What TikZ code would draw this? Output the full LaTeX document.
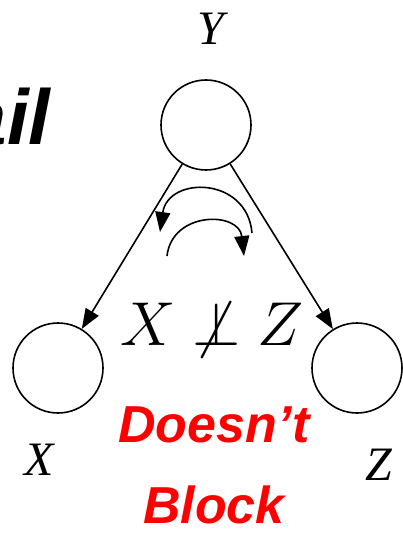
\RequirePackage{fix-cm}
\documentclass[tikz,border=0pt]{standalone}
\usepackage{fontspec}
\setmainfont{Liberation Serif}
\newfontfamily\headfont{Liberation Sans}
\usetikzlibrary{arrows.meta, positioning}
\definecolor{ink}{HTML}{000000}
\definecolor{alarm}{HTML}{FF0000}

\begin{document}
\begin{tikzpicture}[x=1pt, y=-1pt, >={Triangle[length=20pt, width=15pt]},
  var/.style={draw=ink, circle, line width=1.6pt, minimum size=90pt, inner sep=0pt},
  varlabel/.style={text=ink, font=\fontsize{48}{48}\selectfont\itshape, anchor=base},
  link/.style={ink, line width=1.6pt, ->}]

% Frame
\useasboundingbox (0,0) rectangle (403,534);
\clip (0,0) rectangle (403,534);

% Title left over from the slide
\node[text=ink, font=\headfont\fontsize{78}{78}\selectfont\bfseries\itshape, anchor=base east] (title) at (54,145) {Tail};

% Variables
\node[var] (Y) at (206,125) {};
\node[var] (X) at (58,368) {};
\node[var] (Z) at (357,368) {};
\node[varlabel] (Ylab) at (211,45) {Y};
\node[varlabel] (Xlab) at (39,475) {X};
\node[varlabel] (Zlab) at (379,480) {Z};

% Edges
\draw[link] (Y) -- (X);
\draw[link] (Y) -- (Z);

% Flow of influence
\coordinate (upA) at (252,233);
\coordinate (upB) at (160,232);
\coordinate (loA) at (167,256);
\coordinate (loB) at (244,256);
\draw[link] (upA) .. controls (247,176) and (168,176) .. (upB);
\draw[link] (loA) .. controls (172,211) and (239,211) .. (loB);

% Statement
\node[text=ink, anchor=base, font=\fontsize{62}{62}\selectfont] (indep) at (212,345) {$X \not\perp Z$};
\node[text=alarm, font=\headfont\fontsize{52}{52}\selectfont\bfseries\itshape, anchor=base] (verdict) at (214,442) {Doesn’t};
\node[text=alarm, font=\headfont\fontsize{52}{52}\selectfont\bfseries\itshape, anchor=base] (verdict2) at (214,523) {Block};

\end{tikzpicture}
\end{document}
